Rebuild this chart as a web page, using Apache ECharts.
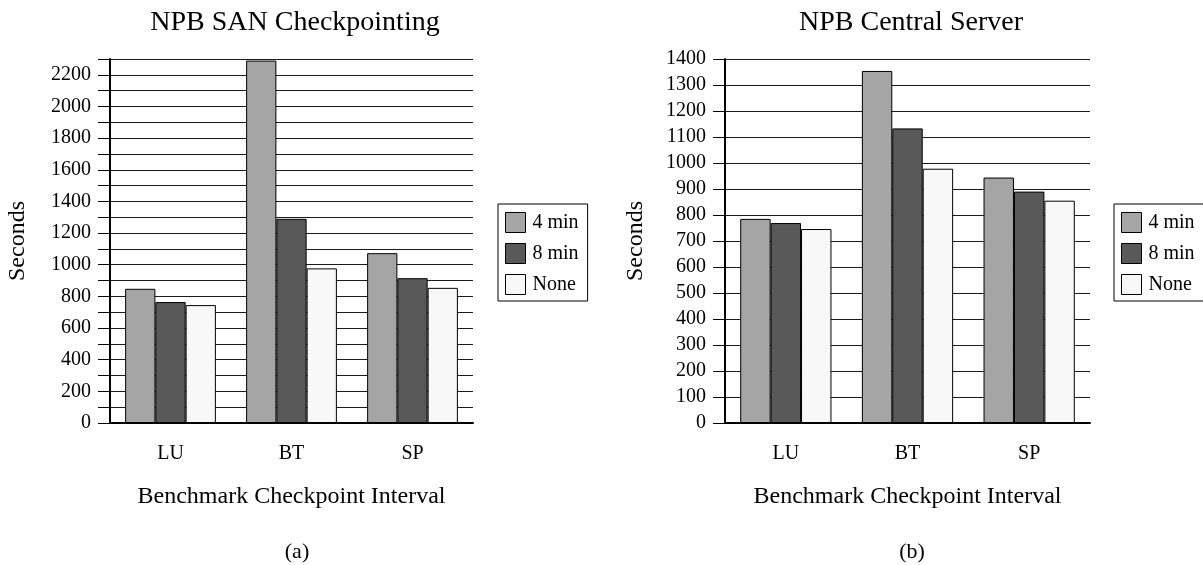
<!DOCTYPE html>
<html>
<head>
<meta charset="utf-8">
<script src="https://cdn.jsdelivr.net/npm/echarts@6/dist/echarts.min.js"></script>
<style>
html,body{margin:0;padding:0;background:#fff;}
#main{width:1203px;height:565px;}
</style>
</head>
<body>
<div id="main"></div>
<script>
// ---- data ----
const categories = ['LU', 'BT', 'SP'];
const seriesNames = ['4 min', '8 min', 'None'];
// (a) NPB SAN Checkpointing
const sanFourMin = [848, 2290, 1073];
const sanEightMin = [764, 1290, 915];
const sanNone = [745, 977, 854];
// (b) NPB Central Server
const csFourMin = [785, 1354, 944];
const csEightMin = [769, 1133, 890];
const csNone = [746, 978, 855];
const titles = ['NPB SAN Checkpointing', 'NPB Central Server'];
const captions = ['(a)', '(b)'];
const xAxisName = 'Benchmark Checkpoint Interval';
const yAxisName = 'Seconds';

const FONT = '"Liberation Serif", "Times New Roman", serif';
const colors = ['#a5a5a5', '#595959', '#f8f8f8'];

const chart = echarts.init(document.getElementById('main'), null, {renderer: 'canvas'});

function xAxis(gridIndex) {
  return {
    type: 'category', gridIndex, data: categories,
    name: xAxisName, nameLocation: 'middle', nameGap: 62,
    nameTextStyle: {fontFamily: FONT, fontSize: 24, color: '#000'},
    axisLine: {lineStyle: {color: '#000', width: 2}},
    axisTick: {length: 12, lineStyle: {color: '#000', width: 1}},
    axisLabel: {fontFamily: FONT, fontSize: 20, color: '#000', margin: 21},
    splitLine: {show: false}
  };
}
function yAxis(gridIndex, max, labelEvery, gap) {
  return {
    type: 'value', gridIndex, min: 0, max: max, interval: 100,
    name: yAxisName, nameLocation: 'middle', nameGap: gap, nameRotate: 90,
    nameTextStyle: {fontFamily: FONT, fontSize: 24, color: '#000'},
    axisLine: {show: true, lineStyle: {color: '#000', width: 2}},
    axisTick: {show: true, length: 12, lineStyle: {color: '#000', width: 1}},
    axisLabel: {fontFamily: FONT, fontSize: 20, color: '#000', margin: 19,
      formatter: v => (v % labelEvery === 0 ? String(v) : '')},
    splitLine: {show: true, lineStyle: {color: '#1a1a1a', width: 1}}
  };
}
function bars(gridIndex, arrays) {
  return arrays.map((arr, i) => ({
    name: seriesNames[i], type: 'bar', xAxisIndex: gridIndex, yAxisIndex: gridIndex,
    data: arr, barGap: '0%', barCategoryGap: '25%',
    itemStyle: {color: colors[i], borderColor: '#000', borderWidth: 1},
    emphasis: {disabled: true}, animation: false
  }));
}
function legend(left) {
  return {
    orient: 'vertical', left: left, top: 204,
    data: seriesNames, icon: 'rect', itemWidth: 20, itemHeight: 20, itemGap: 10,
    padding: [8, 9, 6, 7], borderColor: '#000', borderWidth: 1,
    itemStyle: {borderColor: '#000', borderWidth: 1},
    textStyle: {fontFamily: FONT, fontSize: 20, color: '#000', padding: [0, 0, 0, 2]},
    selectedMode: false
  };
}

chart.setOption({
  animation: false,
  backgroundColor: '#fff',
  title: [
    {text: titles[0], left: 290, top: 4, textAlign: 'center',
      textStyle: {fontFamily: FONT, fontSize: 28, fontWeight: 'normal', color: '#000'}},
    {text: titles[1], left: 906, top: 4, textAlign: 'center',
      textStyle: {fontFamily: FONT, fontSize: 28, fontWeight: 'normal', color: '#000'}},
    {text: captions[0], left: 292, top: 536, textAlign: 'center',
      textStyle: {fontFamily: FONT, fontSize: 22, fontWeight: 'normal', color: '#000'}},
    {text: captions[1], left: 907, top: 536, textAlign: 'center',
      textStyle: {fontFamily: FONT, fontSize: 22, fontWeight: 'normal', color: '#000'}}
  ],
  legend: [legend(498), legend(1114)],
  grid: [
    {left: 110, top: 59, width: 363, height: 364},
    {left: 725, top: 59, width: 365, height: 364}
  ],
  xAxis: [xAxis(0), xAxis(1)],
  yAxis: [yAxis(0, 2300, 200, 80), yAxis(1, 1400, 100, 77)],
  series: [
    ...bars(0, [sanFourMin, sanEightMin, sanNone]),
    ...bars(1, [csFourMin, csEightMin, csNone])
  ]
});
</script>
</body>
</html>
